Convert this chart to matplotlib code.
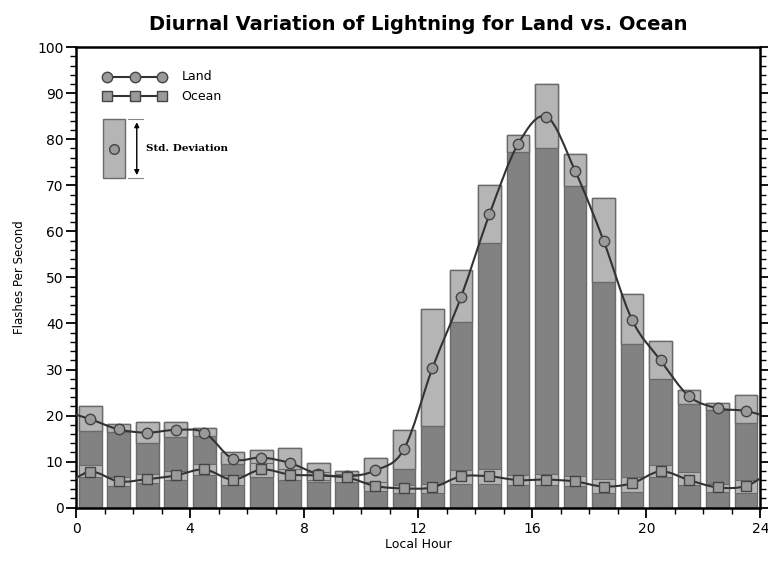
import numpy as np
import matplotlib
matplotlib.use("Agg")
import matplotlib.pyplot as plt
from matplotlib.path import Path
from matplotlib.patches import PathPatch, Rectangle
from matplotlib.ticker import MultipleLocator

# hour bins (centre of each local hour)
hours = np.arange(24) + 0.5

# land mean flash rate and the std. deviation band (low / high edge)
land_mean = [19.2, 17.0, 16.3, 16.9, 16.3, 10.6, 10.9, 9.7, 7.3, 6.8, 8.1, 12.7,
             30.3, 45.7, 63.7, 78.9, 84.9, 73.2, 58.0, 40.8, 32.0, 24.2, 21.6, 21.0]
land_hi = [22.0, 18.1, 18.6, 18.5, 17.2, 12.0, 12.6, 13.0, 9.7, 8.0, 10.7, 16.8,
           43.2, 51.7, 70.1, 81.0, 92.0, 76.9, 67.2, 46.5, 36.1, 25.5, 22.8, 24.4]
land_lo = [16.7, 16.5, 14.0, 15.3, 15.5, 9.4, 6.7, 7.8, 5.6, 5.6, 4.2, 8.5,
           17.7, 40.3, 57.5, 77.3, 78.0, 69.9, 49.0, 35.6, 28.0, 22.6, 21.2, 18.4]

# ocean mean flash rate and its band
ocean_mean = [7.8, 5.7, 6.2, 7.0, 8.3, 6.1, 8.3, 7.2, 7.0, 6.6, 4.7, 4.2,
              4.4, 6.8, 6.8, 6.0, 6.1, 5.7, 4.6, 5.3, 7.9, 6.0, 4.4, 4.7]
ocean_hi = [9.2, 6.7, 7.3, 8.0, 9.5, 7.2, 9.6, 8.5, 7.8, 7.4, 5.6, 4.9,
            5.2, 8.1, 8.5, 7.0, 7.3, 6.8, 6.3, 6.6, 9.2, 7.8, 5.2, 6.0]
ocean_lo = [6.6, 4.7, 5.3, 6.0, 7.1, 5.0, 6.6, 6.0, 6.0, 5.6, 3.6, 3.1,
            3.1, 5.2, 5.2, 4.9, 4.9, 4.7, 3.1, 3.4, 6.6, 4.9, 3.4, 3.2]

DARK = "#828282"
LIGHT = "#b5b5b5"
EDGE = "#6a6a6a"
LINE = "#333333"
MARK = "#9a9a9a"


def smooth_path(xs, ys):
    # periodic catmull-rom curve through the points (day wraps around)
    xs = np.asarray(xs, float)
    ys = np.asarray(ys, float)
    xp = np.concatenate([xs[-2:] - 24, xs, xs[:2] + 24])
    yp = np.concatenate([ys[-2:], ys, ys[:2]])
    pts = np.column_stack([xp, yp])
    verts = [pts[1]]
    codes = [Path.MOVETO]
    for i in range(1, len(pts) - 2):
        p0, p1, p2, p3 = pts[i - 1], pts[i], pts[i + 1], pts[i + 2]
        verts += [p1 + (p2 - p0) / 6, p2 - (p3 - p1) / 6, p2]
        codes += [Path.CURVE4] * 3
    return Path(verts, codes)


fig = plt.figure(figsize=(7.68, 5.61), dpi=100)
ax = fig.add_axes([0.099, 0.095, 0.891, 0.821])

w = 0.8
ax.bar(hours, land_hi, width=w, color=DARK, edgecolor=EDGE, linewidth=1.0, zorder=2)
lh = np.array(land_hi)
ll = np.array(land_lo)
ax.bar(hours, lh - ll, bottom=ll, width=w, color=LIGHT, edgecolor=EDGE, linewidth=1.0, zorder=2)
oh = np.array(ocean_hi)
ol = np.array(ocean_lo)
ax.bar(hours, oh - ol, bottom=ol, width=w, color=LIGHT, edgecolor=EDGE, linewidth=0.8, zorder=2)

ax.add_patch(PathPatch(smooth_path(hours, land_mean), fill=False, edgecolor=LINE, lw=1.5, zorder=3))
ax.add_patch(PathPatch(smooth_path(hours, ocean_mean), fill=False, edgecolor=LINE, lw=1.5, zorder=3))
ax.plot(hours, land_mean, 'o', ms=7.5, mfc=MARK, mec="#444444", mew=1.0, zorder=4)
ax.plot(hours, ocean_mean, 's', ms=7.5, mfc=MARK, mec="#444444", mew=1.0, zorder=4)

# legend drawn by hand
ax.plot([1.09, 3.02], [93.6, 93.6], color=LINE, lw=1.5, zorder=4)
ax.plot([1.09, 2.07, 3.02], [93.6, 93.6, 93.6], 'o', ms=7.5, mfc=MARK, mec="#444444", mew=1.0, zorder=5)
ax.plot([1.09, 3.02], [89.3, 89.3], color=LINE, lw=1.5, zorder=4)
ax.plot([1.09, 2.07, 3.02], [89.3, 89.3, 89.3], 's', ms=7.5, mfc=MARK, mec="#444444", mew=1.0, zorder=5)
ax.text(3.7, 93.6, "Land", fontsize=9, va="center", ha="left")
ax.text(3.7, 89.3, "Ocean", fontsize=9, va="center", ha="left")
ax.add_patch(Rectangle((0.94, 71.6), 0.78, 12.7, facecolor=LIGHT, edgecolor=EDGE, lw=1.0, zorder=4))
ax.plot([1.33], [77.9], 'o', ms=7, mfc=MARK, mec="#444444", mew=1.0, zorder=5)
ax.annotate("", xy=(2.13, 84.3), xytext=(2.13, 71.6),
            arrowprops=dict(arrowstyle="<|-|>", color="black", lw=1.0, mutation_scale=7))
ax.plot([1.83, 2.34], [84.3, 84.3], color="#888888", lw=0.8)
ax.plot([1.83, 2.34], [71.6, 71.6], color="#888888", lw=0.8)
ax.text(2.46, 77.9, "Std. Deviation", fontsize=7.5, fontweight="bold", family="DejaVu Serif",
        va="center", ha="left")

ax.set_xlim(0, 24)
ax.set_ylim(0, 100)
ax.xaxis.set_major_locator(MultipleLocator(4))
ax.xaxis.set_minor_locator(MultipleLocator(1))
ax.yaxis.set_major_locator(MultipleLocator(10))
ax.yaxis.set_minor_locator(MultipleLocator(2))
ax.tick_params(axis="both", which="major", direction="out", length=7, width=1.3, labelsize=10)
ax.tick_params(axis="both", which="minor", direction="out", length=4, width=1.0)
ax.tick_params(axis="y", which="both", right=True)
ax.tick_params(axis="y", which="major", pad=2)
for s in ax.spines.values():
    s.set_linewidth(1.8)

ax.set_xlabel("Local Hour", fontsize=9, labelpad=1)
ax.set_ylabel("Flashes Per Second", fontsize=8.5, labelpad=8)
ax.set_title("Diurnal Variation of Lightning for Land vs. Ocean", fontsize=14, fontweight="bold", pad=12)

fig.savefig("out.png", dpi=100)
